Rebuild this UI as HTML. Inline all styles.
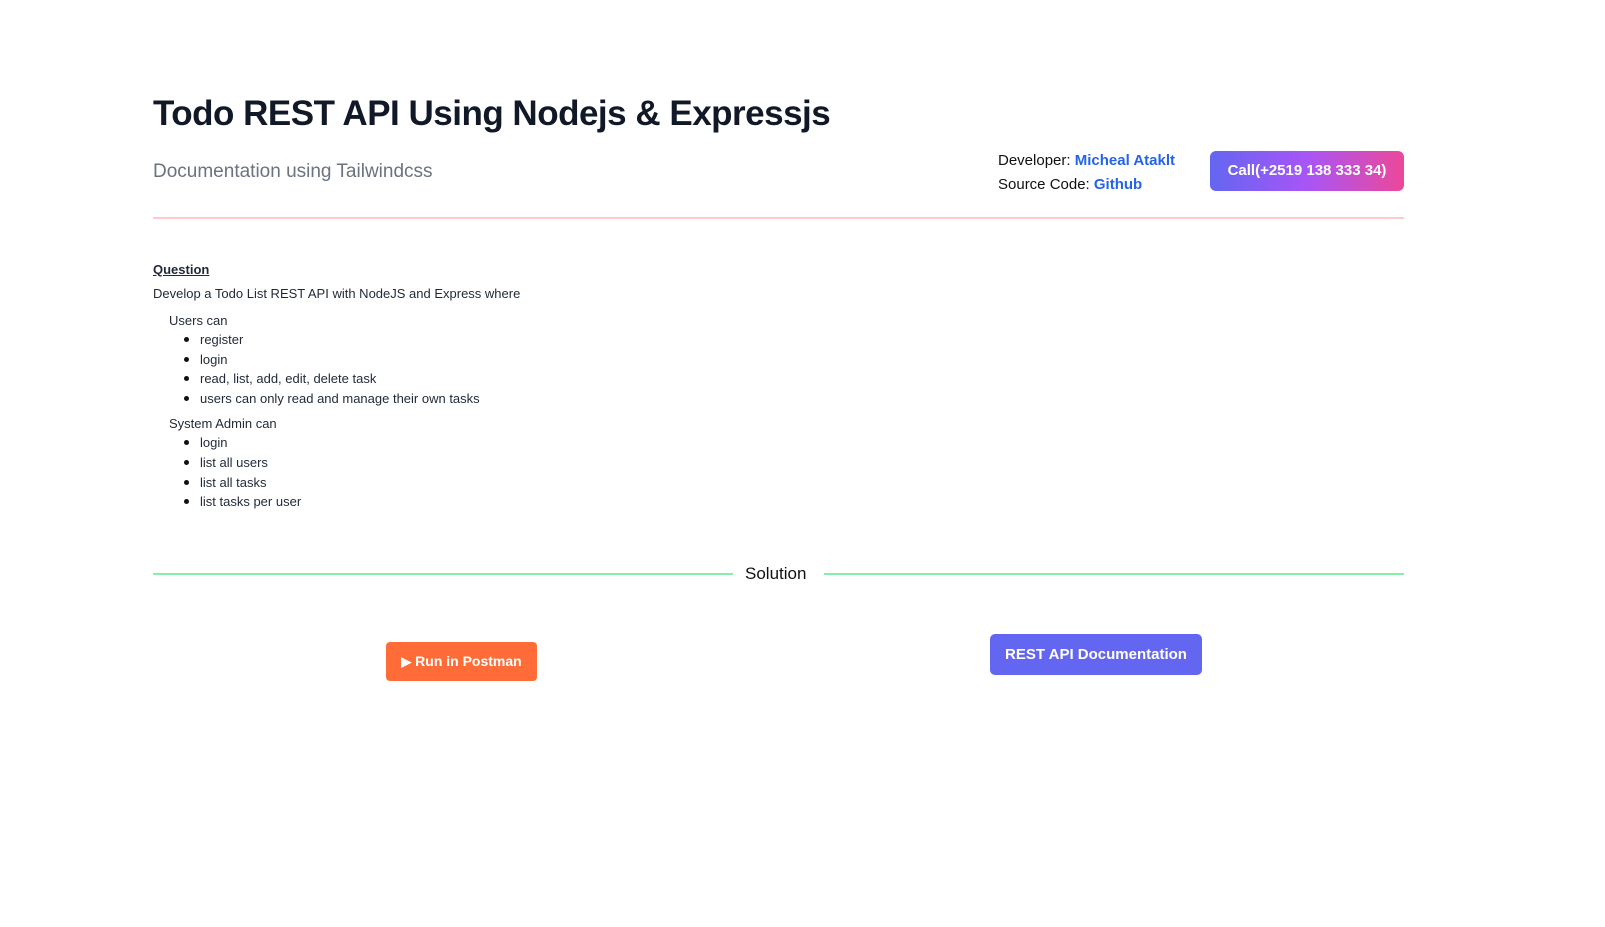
<!DOCTYPE html>
<html><head><meta charset="utf-8"><style>
body{margin:0;width:1605px;height:927px;background:#fff;font-family:"Liberation Sans",sans-serif;color:#111827;position:relative;overflow:hidden}
.a{position:absolute;white-space:nowrap}
h1{position:absolute;left:153px;top:94px;margin:0;font-size:35px;font-weight:900;letter-spacing:-0.5px;color:#111827}
.sm{font-size:13px;color:#1f2937}
ul{margin:0;padding:0;list-style:none}
li{position:relative;height:19.6px;line-height:19.6px;padding-left:47px}
li:before{content:"";position:absolute;left:31px;top:7px;width:5px;height:5px;border-radius:50%;background:#111}
</style></head><body>
<h1>Todo REST API Using Nodejs &amp; Expressjs</h1>
<div class="a" style="left:153px;top:161px;font-size:19px;color:#6b7280">Documentation using Tailwindcss</div>
<div class="a" style="left:998px;top:149px;font-size:15px;line-height:24px;color:#111">Developer: <b style="color:#2563eb">Micheal Ataklt</b><br>Source Code: <b style="color:#2563eb">Github</b></div>
<div class="a" style="left:1210px;top:151px;width:194px;height:40px;border-radius:6px;background:linear-gradient(90deg,#6366f1,#a855f7,#ec4899);color:#fff;font-weight:bold;font-size:15px;line-height:40px;text-align:center">Call(+2519 138 333 34)</div>
<div class="a" style="left:153px;top:217px;width:1251px;height:2px;background:#fecaca"></div>
<div class="a sm" style="left:153px;top:262px;font-weight:bold;text-decoration:underline">Question</div>
<div class="a sm" style="left:153px;top:286px">Develop a Todo List REST API with NodeJS and Express where</div>
<div class="a sm" style="left:153px;top:312px">
<div style="padding-left:16px;line-height:17px">Users can</div>
<ul style="margin-top:1px"><li>register</li><li>login</li><li>read, list, add, edit, delete task</li><li>users can only read and manage their own tasks</li></ul>
<div style="padding-left:16px;margin-top:7px;line-height:17px">System Admin can</div>
<ul style="margin-top:1px"><li>login</li><li>list all users</li><li>list all tasks</li><li>list tasks per user</li></ul>
</div>
<div class="a" style="left:153px;top:573px;width:580px;height:2px;background:#86efac"></div>
<div class="a" style="left:824px;top:573px;width:580px;height:2px;background:#86efac"></div>
<div class="a" style="left:745px;top:564px;font-size:17px;color:#111">Solution</div>
<div class="a" style="left:386px;top:642px;width:151px;height:39px;border-radius:4px;background:#ff6c37;color:#fff;font-weight:bold;font-size:14px;line-height:39px;text-align:center"><span style="font-size:13px">&#9654;</span> Run in Postman</div>
<div class="a" style="left:990px;top:634px;width:212px;height:41px;border-radius:5px;background:#6366f1;color:#fff;font-weight:bold;font-size:15px;line-height:41px;text-align:center">REST API Documentation</div>
</body></html>
